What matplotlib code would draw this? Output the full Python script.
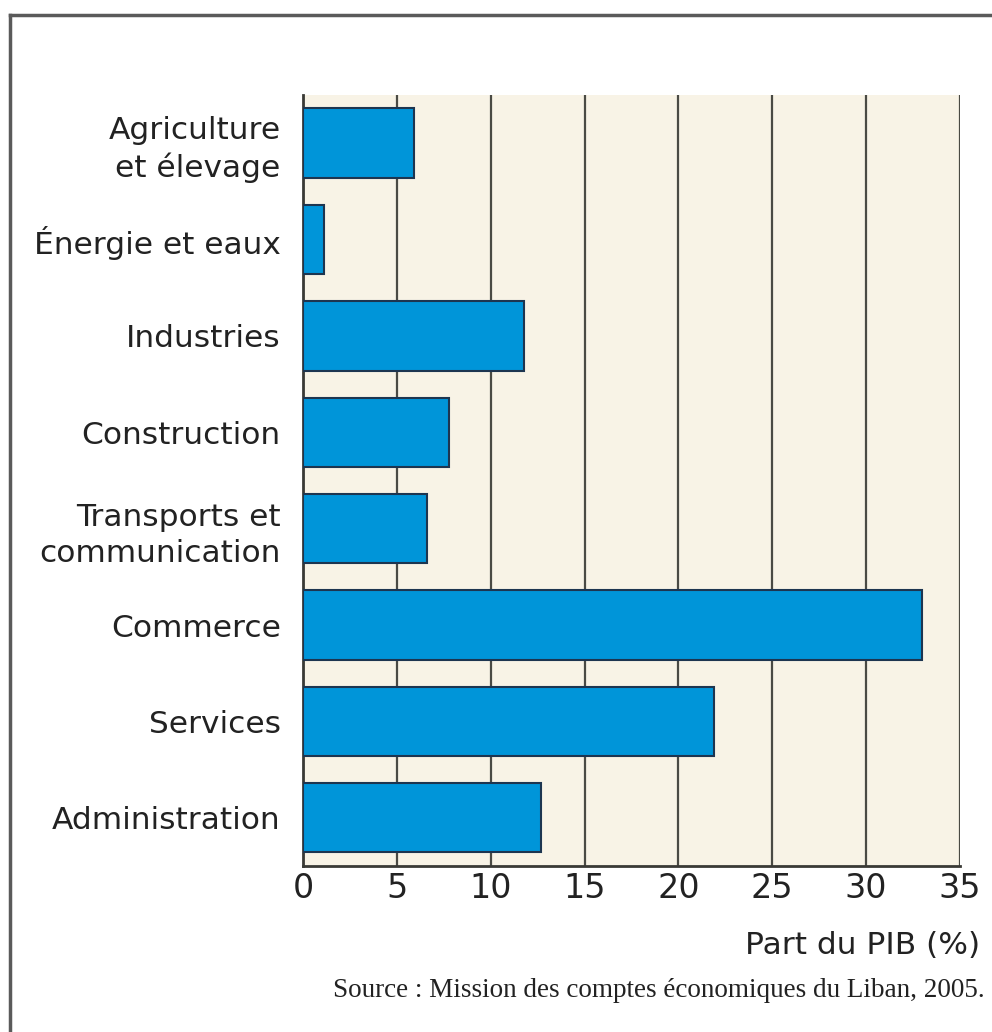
import matplotlib
matplotlib.use('Agg')
import matplotlib.pyplot as plt
from matplotlib.lines import Line2D

# Sector shares of GDP (%)
sectors = [
    "Agriculture\net élevage",
    "Énergie et eaux",
    "Industries",
    "Construction",
    "Transports et\ncommunication",
    "Commerce",
    "Services",
    "Administration",
]
shares = [5.9, 1.1, 11.8, 7.8, 6.6, 33.0, 21.9, 12.7]
xticks = [0, 5, 10, 15, 20, 25, 30, 35]

fig = plt.figure(figsize=(9.92, 10.32), dpi=100)
ax = fig.add_axes([0.3054, 0.1609, 0.6623, 0.7471])

ax.set_facecolor('#f8f3e6')
ypos = list(range(len(sectors)))
ax.barh(ypos, shares, height=0.72, color='#0095d9',
        edgecolor='#1d3550', linewidth=1.5, zorder=3)

ax.set_xlim(0, 35)
ax.set_ylim(len(sectors) - 0.5, -0.5)
ax.set_xticks(xticks)
ax.xaxis.grid(True, color='#4a4a44', linewidth=1.6, zorder=1)
ax.set_yticks(ypos)
ax.set_yticklabels(sectors, fontsize=22.5, color='#222222',
                   linespacing=1.3, ha='right', multialignment='right')
ax.tick_params(axis='x', labelsize=24, length=0, pad=4, colors='#222222')
ax.tick_params(axis='y', length=0, pad=16)

for s in ['top', 'right']:
    ax.spines[s].set_visible(False)
for s in ['left', 'bottom']:
    ax.spines[s].set_color('#3a3a36')
    ax.spines[s].set_linewidth(2)

fig.text(0.988, 0.084, "Part du PIB (%)", ha='right', va='center',
         fontsize=22.5, color='#222222')
fig.text(0.993, 0.040, "Source : Mission des comptes économiques du Liban, 2005.",
         ha='right', va='center', fontsize=19.5, family='Liberation Serif',
         color='#222222')

# outer frame (top and left edges visible)
fig.add_artist(Line2D([0.010, 1.0], [0.985, 0.985], transform=fig.transFigure,
                      color='#5a5a5a', linewidth=2.5))
fig.add_artist(Line2D([0.010, 0.010], [0.0, 0.985], transform=fig.transFigure,
                      color='#5a5a5a', linewidth=2.5))

fig.savefig('out.png', dpi=100)
